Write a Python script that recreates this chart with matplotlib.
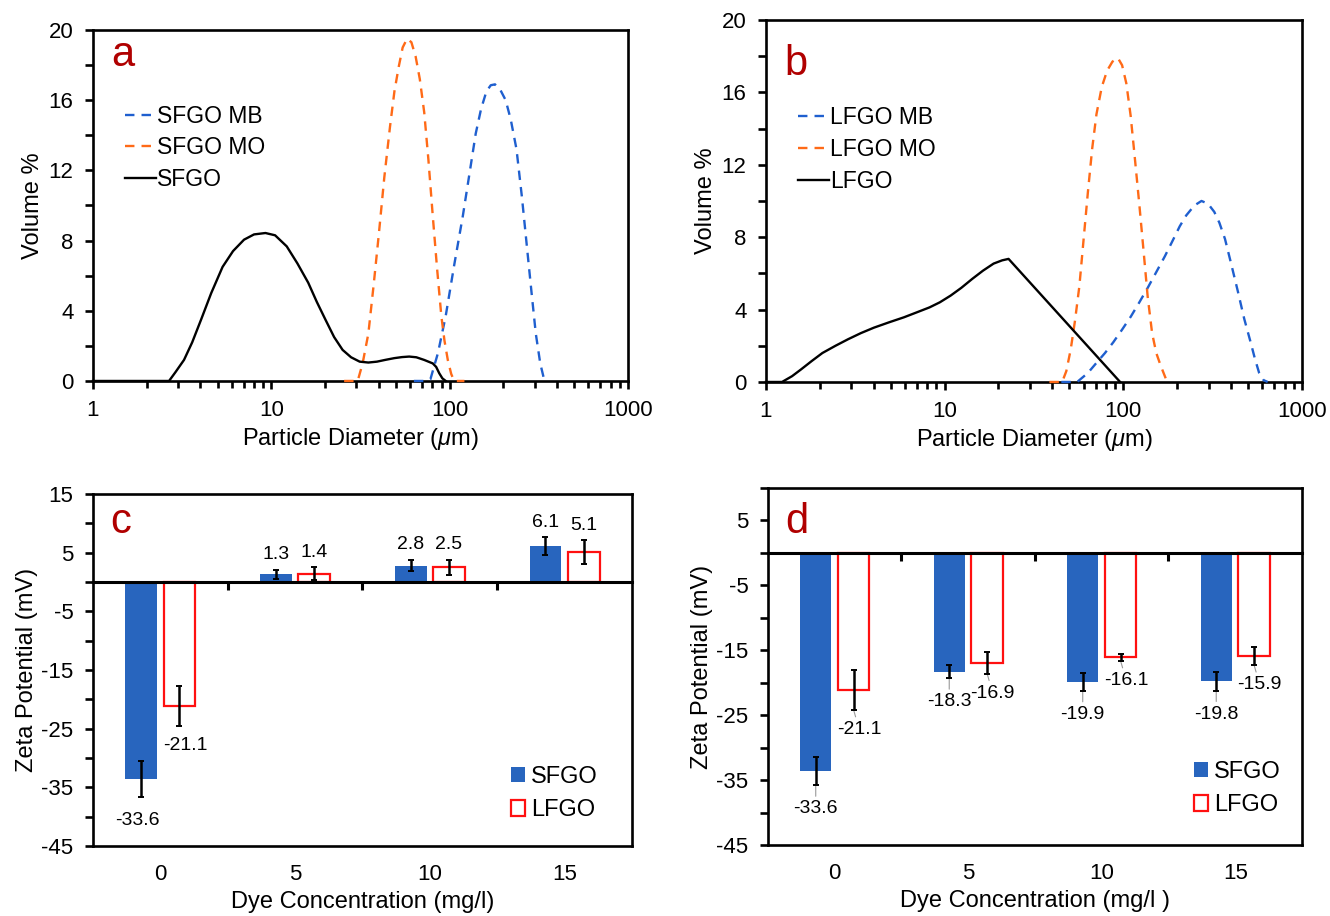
import numpy as np
import matplotlib
matplotlib.use('Agg')
from matplotlib import pyplot as plt
from matplotlib.patches import Patch

plt.rcParams['font.family'] = ['Liberation Sans', 'DejaVu Sans']
plt.rcParams['mathtext.fontset'] = 'custom'
plt.rcParams['mathtext.rm'] = 'Liberation Sans'
plt.rcParams['mathtext.it'] = 'Liberation Sans:italic'
plt.rcParams['axes.unicode_minus'] = False

# ---- panel a: SFGO size distributions (diameter in um, volume %)
a_mb_x = [63, 72, 78, 86, 95, 106, 118.5, 130, 140, 150, 160.7, 170, 179.5, 192, 206, 220, 237, 254, 272, 288, 304, 322, 340]
a_mb_y = [0, 0, 0.1, 1.6, 3.7, 6.6, 9.4, 12.0, 14.1, 15.5, 16.5, 16.85, 16.9, 16.6, 16.0, 14.9, 13.2, 10.5, 7.5, 5.0, 2.7, 1.0, 0]
a_mo_x = [25.6, 30.5, 32.5, 35, 37.5, 40.1, 43, 46.3, 49, 51.8, 54.5, 57.7, 61, 64.4, 68, 72, 76, 80.4, 85, 89.8, 93.5, 97.6, 102, 106, 121]
a_mo_y = [0, 0, 1.0, 2.7, 5.5, 8.4, 11.6, 14.5, 16.5, 17.9, 19.0, 19.5, 19.3, 18.5, 17.2, 15.3, 12.6, 9.4, 6.4, 3.7, 2.3, 1.2, 0.4, 0, 0]
a_go_x = [1, 2.67, 2.9, 3.24, 3.6, 4.04, 4.6, 5.33, 6.1, 7.03, 8.0, 9.27, 10.5, 12.2, 14.0, 16.1, 18.0, 20.1, 22.5, 25.1, 28, 31.3, 35, 39.1, 43.5, 48.9, 54, 59.3, 65, 71.9, 80.4, 84, 87.4, 91, 95]
a_go_y = [0, 0, 0.5, 1.2, 2.2, 3.5, 5.0, 6.5, 7.4, 8.05, 8.35, 8.43, 8.3, 7.67, 6.7, 5.6, 4.5, 3.5, 2.5, 1.77, 1.35, 1.1, 1.05, 1.1, 1.2, 1.3, 1.36, 1.39, 1.35, 1.2, 1.0, 0.8, 0.44, 0.15, 0]

# ---- panel b: LFGO size distributions
b_mb_x = [45, 55.2, 63.4, 70, 79, 88, 98.6, 110, 123, 137, 153, 171, 191, 207, 225, 250, 274, 298, 323, 345, 371, 400, 438, 475, 516, 545, 576, 610, 643]
b_mb_y = [0, 0, 0.5, 1.0, 1.6, 2.2, 2.9, 3.6, 4.4, 5.2, 6.07, 6.95, 7.9, 8.6, 9.2, 9.75, 10.0, 9.85, 9.4, 8.8, 7.9, 6.6, 5.0, 3.5, 2.2, 1.3, 0.5, 0.1, 0]
b_mo_x = [38.6, 45.5, 48, 50.8, 53.7, 56.8, 60, 63.4, 67, 70.8, 75.8, 81.2, 87, 93.3, 98.5, 104, 110, 116, 123, 130, 137, 145, 153, 162, 176]
b_mo_y = [0, 0, 0.6, 1.8, 3.4, 5.3, 7.9, 10.5, 12.9, 14.8, 16.3, 17.2, 17.7, 17.9, 17.5, 16.5, 14.7, 12.4, 9.8, 7.2, 4.7, 2.7, 1.6, 0.9, 0]
b_go_x = [1, 1.23, 1.4, 1.57, 1.8, 2.07, 2.45, 2.88, 3.4, 4.02, 4.9, 5.91, 7.0, 8.23, 9.4, 10.8, 12.4, 14.3, 16.4, 18.8, 21, 22.8, 96]
b_go_y = [0, 0, 0.32, 0.69, 1.15, 1.6, 2.0, 2.36, 2.7, 3.0, 3.3, 3.57, 3.85, 4.12, 4.4, 4.77, 5.2, 5.7, 6.15, 6.54, 6.72, 6.8, 0]

# ---- panels c, d: zeta potential (mV) vs dye concentration
conc_labels = ['0', '5', '10', '15']
c_sfgo = [-33.6, 1.3, 2.8, 6.1]
c_sfgo_err = [3.1, 0.8, 1.0, 1.5]
c_lfgo = [-21.1, 1.4, 2.5, 5.1]
c_lfgo_err = [3.4, 1.1, 1.3, 2.0]
d_sfgo = [-33.6, -18.3, -19.9, -19.8]
d_sfgo_err = [2.2, 1.0, 1.35, 1.4]
d_lfgo = [-21.1, -16.9, -16.1, -15.9]
d_lfgo_err = [3.1, 1.7, 0.55, 1.4]

blue = '#1f5fcf'
orange = '#ff6a17'
barblue = '#2865be'
letter_red = '#b00000'
spine_w = 1.9
tick_fs = 16
lab_fs = 17

fig = plt.figure(figsize=(13.3, 9.16), dpi=100)


def style_axes(ax):
    for s in ax.spines.values():
        s.set_linewidth(spine_w)
    ax.tick_params(which='both', direction='out', width=spine_w, labelsize=tick_fs, length=6)
    ax.tick_params(axis='y', pad=8)
    ax.tick_params(axis='x', pad=8)


def size_panel(rect, letter, curves, names, letter_y, leg_y):
    ax = fig.add_axes(rect)
    style_axes(ax)
    styles = [(blue, (0, (4, 3))), (orange, (0, (4, 3))), ('black', '-')]
    for (xs, ys), name, (col, ls) in zip(curves, names, styles):
        ax.plot(xs, ys, color=col, ls=ls, lw=1.7, label=name, zorder=3, clip_on=False)
    ax.set_xscale('log')
    ax.set_xlim(1, 1000)
    ax.set_ylim(0, 20)
    ax.set_xticks([1, 10, 100, 1000], ['1', '10', '100', '1000'])
    ax.set_yticks(np.arange(0, 21, 4))
    ax.set_yticks(np.arange(2, 20, 4), minor=True)
    ax.tick_params(axis='x', which='minor', length=5)
    ax.set_xlabel(r'Particle Diameter ($\mu$m)', fontsize=lab_fs, labelpad=3)
    ax.set_ylabel('Volume %', fontsize=lab_fs, labelpad=3)
    ax.text(0.035, letter_y, letter, transform=ax.transAxes, fontsize=30,
            color=letter_red, va='baseline')
    ax.legend(loc='upper left', bbox_to_anchor=(0.06, leg_y), frameon=False,
              fontsize=16.5, handlelength=1.35, handletextpad=0.05, labelspacing=0.38,
              borderpad=0, borderaxespad=0)
    return ax


size_panel([0.0699, 0.5841, 0.4023, 0.3832], 'a',
           [(a_mb_x, a_mb_y), (a_mo_x, a_mo_y), (a_go_x, a_go_y)],
           ['SFGO MB', 'SFGO MO', 'SFGO'], 0.897, 0.787)
size_panel([0.5759, 0.583, 0.4030, 0.3952], 'b',
           [(b_mb_x, b_mb_y), (b_mo_x, b_mo_y), (b_go_x, b_go_y)],
           ['LFGO MB', 'LFGO MO', 'LFGO'], 0.848, 0.762)


def zeta_panel(rect, letter, sfgo, sfgo_err, lfgo, lfgo_err, ylim, letter_y,
               xlabel, leg_anchor, leaders):
    ax = fig.add_axes(rect)
    style_axes(ax)
    x = np.arange(len(conc_labels))
    w = 0.235
    off = 0.142
    ax.bar(x - off, sfgo, w, color=barblue, label='SFGO', zorder=2)
    ax.bar(x + off, lfgo, w, facecolor='white', edgecolor='#ff1010', lw=1.6,
           label='LFGO', zorder=2)
    ekw = dict(fmt='none', ecolor='black', elinewidth=1.8, capsize=2.2, capthick=1.4, zorder=4)
    ax.errorbar(x - off, sfgo, yerr=sfgo_err, **ekw)
    ax.errorbar(x + off, lfgo, yerr=lfgo_err, **ekw)

    lk = dict(arrowstyle='-', color='0.6', lw=0.8, shrinkA=1, shrinkB=0) if leaders else None
    for xs, vals, errs, dx, dn in [(x - off, sfgo, sfgo_err, -3, 17), (x + off, lfgo, lfgo_err, 4, 14)]:
        for xi, v, e in zip(xs, vals, errs):
            if v >= 0:
                ax.annotate(f'{v:.1f}', xy=(xi, v + e), xytext=(0, 11),
                            textcoords='offset points', ha='center', va='center',
                            fontsize=14)
            else:
                ax.annotate(f'{v:.1f}', xy=(xi, v - e), xytext=(dx if not leaders or dx > 0 else 0, -dn),
                            textcoords='offset points', ha='center', va='center',
                            fontsize=14, arrowprops=lk)

    ax.set_xlim(-0.5, len(conc_labels) - 0.5)
    ax.set_ylim(*ylim)
    ax.set_xticks(x, conc_labels)
    ax.tick_params(axis='x', length=0, pad=13)
    ax.set_yticks(np.arange(ylim[0], ylim[1] + 1, 10))
    ax.set_yticks(np.arange(ylim[0] + 5, ylim[1] + 1, 10), minor=True)
    ax.set_xlabel(xlabel, fontsize=lab_fs, labelpad=4)
    ax.set_ylabel('Zeta Potential (mV)', fontsize=lab_fs, labelpad=2)

    # category axis crossing at zero, with boundary tick marks
    pos = (0 - ylim[0]) / (ylim[1] - ylim[0])
    sec = ax.secondary_xaxis(pos)
    sec.set_xticks(x[:-1] + 0.5)
    sec.tick_params(axis='x', direction='in', length=6, width=2.2,
                    labeltop=False, labelbottom=False)
    for s in sec.spines.values():
        s.set_linewidth(2.2)
    sec.set_zorder(5)

    ax.text(0.032, letter_y, letter, transform=ax.transAxes, fontsize=30,
            color=letter_red, va='baseline')
    handles = [Patch(facecolor=barblue, label='SFGO'),
               Patch(facecolor='white', edgecolor='#ff1010', lw=1.6, label='LFGO')]
    ax.legend(handles=handles, loc='lower right', bbox_to_anchor=leg_anchor,
              frameon=False, fontsize=17, handlelength=0.62, handleheight=0.62,
              handletextpad=0.25, labelspacing=0.5, borderpad=0, borderaxespad=0)
    return ax


zeta_panel([0.0699, 0.0764, 0.4053, 0.3843], 'c', c_sfgo, c_sfgo_err, c_lfgo, c_lfgo_err,
           (-45, 15), 0.889, 'Dye Concentration (mg/l)', (0.937, 0.07), False)
zeta_panel([0.5774, 0.0775, 0.4015, 0.3897], 'd', d_sfgo, d_sfgo_err, d_lfgo, d_lfgo_err,
           (-45, 10), 0.874, 'Dye Concentration (mg/l )', (0.961, 0.08), True)

fig.savefig('out.png', dpi=100)
